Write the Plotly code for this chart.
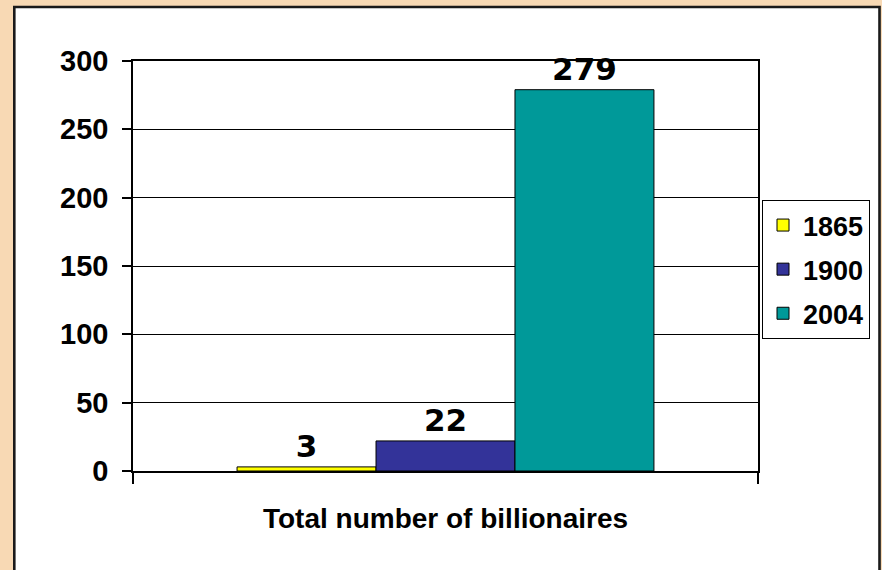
import plotly.graph_objects as go

categories = ["Total number of billionaires"]
series_names = ["1865", "1900", "2004"]
series_values = [[3], [22], [279]]
series_colors = ["#FFFF00", "#333399", "#009999"]
y_ticks = [0, 50, 100, 150, 200, 250, 300]

W, H = 882, 570
L, R, T, B = 133, 124, 61, 99
pw, ph = W - L - R, H - T - B

def px_x(p):
    return (p - L) / pw

def px_y(p):
    return (H - B - p) / ph

fig = go.Figure()
for name, vals, col in zip(series_names, series_values, series_colors):
    fig.add_trace(go.Bar(
        x=categories, y=vals, name=name, legendgroup=name,
        marker=dict(color=col, line=dict(color="black", width=1)),
        text=[str(v) for v in vals], textposition="outside",
        textfont=dict(family="DejaVu Sans", size=31, color="black", weight="bold"),
        cliponaxis=False,
    ))

fig.add_shape(type="rect", xref="paper", yref="paper",
              x0=px_x(14.3), x1=px_x(879.5), y0=px_y(600), y1=px_y(7),
              line=dict(color="#1a1a1a", width=2.6), fillcolor="white", layer="below")

fig.update_layout(
    width=W, height=H,
    margin=dict(l=L, r=R, t=T, b=B, pad=0),
    paper_bgcolor="#F8D9B4",
    plot_bgcolor="white",
    barmode="group", bargap=0.333, bargroupgap=0,
    font=dict(family="Liberation Sans, Arial", color="black"),
    showlegend=True,
    legend=dict(
        x=px_x(762), y=px_y(200), xanchor="left", yanchor="top",
        bgcolor="white", bordercolor="black", borderwidth=1,
        font=dict(family="Liberation Sans, Arial", size=27, color="black", weight="bold"),
        traceorder="grouped", tracegroupgap=6,
    ),
    xaxis=dict(
        type="category", showline=True, linecolor="black", linewidth=1.5, mirror=True,
        ticks="outside", tickson="boundaries", ticklen=11, tickcolor="black", tickwidth=1.5,
        showgrid=False,
        tickfont=dict(family="Liberation Sans, Arial", size=28, color="black", weight="bold"),
        ticklabelstandoff=22,
    ),
    yaxis=dict(
        range=[0, 300], tickvals=y_ticks, showline=True, linecolor="black", linewidth=1.5,
        mirror=True, ticks="outside", ticklen=9, tickcolor="black", tickwidth=1.5,
        showgrid=True, gridcolor="black", gridwidth=1, zeroline=False,
        tickfont=dict(family="Liberation Sans, Arial", size=29, color="black", weight="bold"),
        ticklabelstandoff=8,
    ),
)

fig.write_html("out.html")
